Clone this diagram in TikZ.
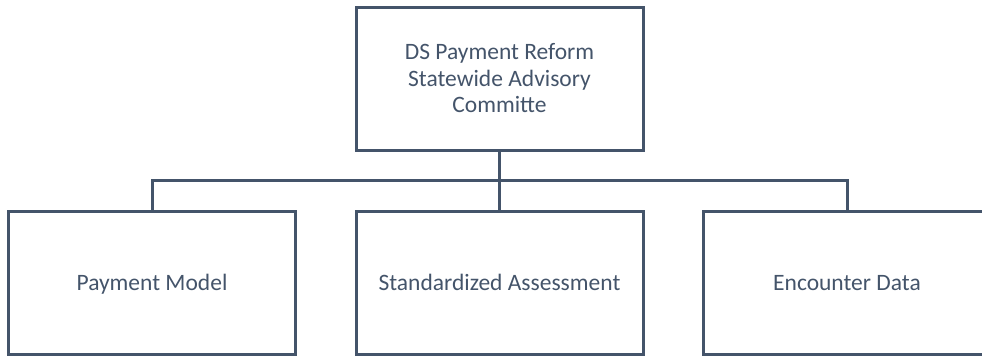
\documentclass[tikz,border=0pt]{standalone}
\usepackage{fontspec}
\setmainfont{Carlito}
\definecolor{slate}{HTML}{44546A}
\begin{document}
\begin{tikzpicture}[x=1pt,y=-1pt,
  box/.style={draw=slate,line width=3pt,minimum width=287pt,minimum height=143pt,inner sep=0pt,
    text=slate,font=\fontsize{23.5}{26.5}\selectfont,align=center},
  child/.style={box,text height=16pt,text depth=1pt},
  link/.style={draw=slate,line width=3pt}]
\clip (0,0) rectangle (982,356);
\node[box] (top) at (499.5,78.5) {DS Payment Reform\\Statewide Advisory\\Committe};
\node[child] (c1) at (152,282.5) {Payment Model};
\node[child] (c2) at (499.5,282.5) {Standardized Assessment};
\node[child] (c3) at (847,282.5) {Encounter Data};
\coordinate (bus) at (0,180.5);
\draw[link] (top.south) -- (c2.north);
\draw[link] (c1.north) -- (c1.north |- bus) -- (c3.north |- bus) -- (c3.north);
\end{tikzpicture}
\end{document}
